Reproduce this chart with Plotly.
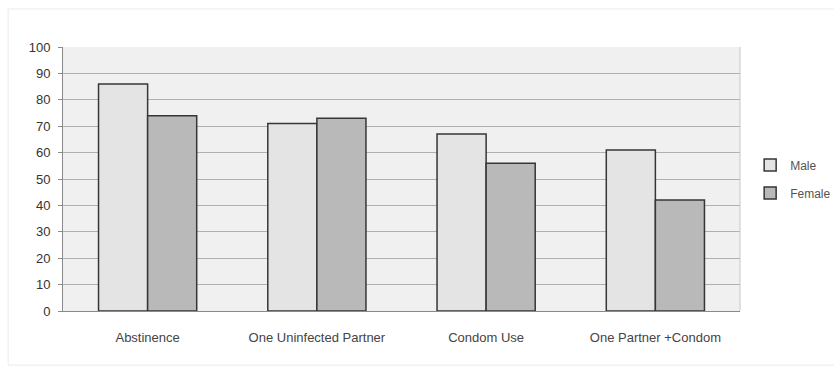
import plotly.graph_objects as go

# Survey data: share of respondents (%) by prevention method
categories = ["Abstinence", "One Uninfected Partner", "Condom Use", "One Partner +Condom"]
male = [86, 71, 67, 61]
female = [74, 73, 56, 42]
y_ticks = list(range(0, 101, 10))

fig = go.Figure()
fig.add_trace(go.Bar(
    name="Male", x=categories, y=male, legendgroup="m",
    marker=dict(color="#e4e4e4", line=dict(color="#363636", width=1.5)),
))
fig.add_trace(go.Bar(
    name="Female", x=categories, y=female, legendgroup="f",
    marker=dict(color="#b9b9b9", line=dict(color="#363636", width=1.5)),
))

fig.update_layout(
    width=834, height=372,
    margin=dict(l=63, r=94, t=47, b=61, autoexpand=False),
    paper_bgcolor="white",
    plot_bgcolor="#f0f0f0",
    barmode="group",
    bargap=0.42,
    bargroupgap=0,
    font=dict(family="Liberation Sans, Arial, sans-serif", size=12, color="#333333"),
    showlegend=True,
    legend=dict(
        x=1.015, y=0.5, xanchor="left", yanchor="middle",
        font=dict(size=12, color="#555555"),
        bgcolor="rgba(0,0,0,0)",
        itemwidth=30,
        tracegroupgap=9,
    ),
    xaxis=dict(
        showgrid=False,
        showline=True, linecolor="#8a8a8a", linewidth=1,
        ticks="", ticklabelstandoff=14,
        tickfont=dict(size=13, color="#444444"),
        mirror=False,
    ),
    yaxis=dict(
        range=[0, 100],
        tickvals=y_ticks,
        showgrid=True, gridcolor="#b0b0b0", gridwidth=1,
        showline=True, linecolor="#8a8a8a", linewidth=1,
        ticks="outside", ticklen=4, tickcolor="#8a8a8a",
        ticklabelstandoff=5,
        tickfont=dict(size=13, color="#333333"),
        zeroline=False,
    ),
    shapes=[
        # faint chart frame
        dict(type="rect", xref="paper", yref="paper",
             x0=-0.081, x1=1.2, y0=-0.205, y1=1.144,
             line=dict(color="#ebebeb", width=1), fillcolor="rgba(0,0,0,0)"),
        # right edge of plot area
        dict(type="line", xref="paper", yref="paper", x0=1, x1=1, y0=0, y1=1,
             line=dict(color="#c8c8c8", width=1)),
    ],
)

fig.write_html("out.html")
